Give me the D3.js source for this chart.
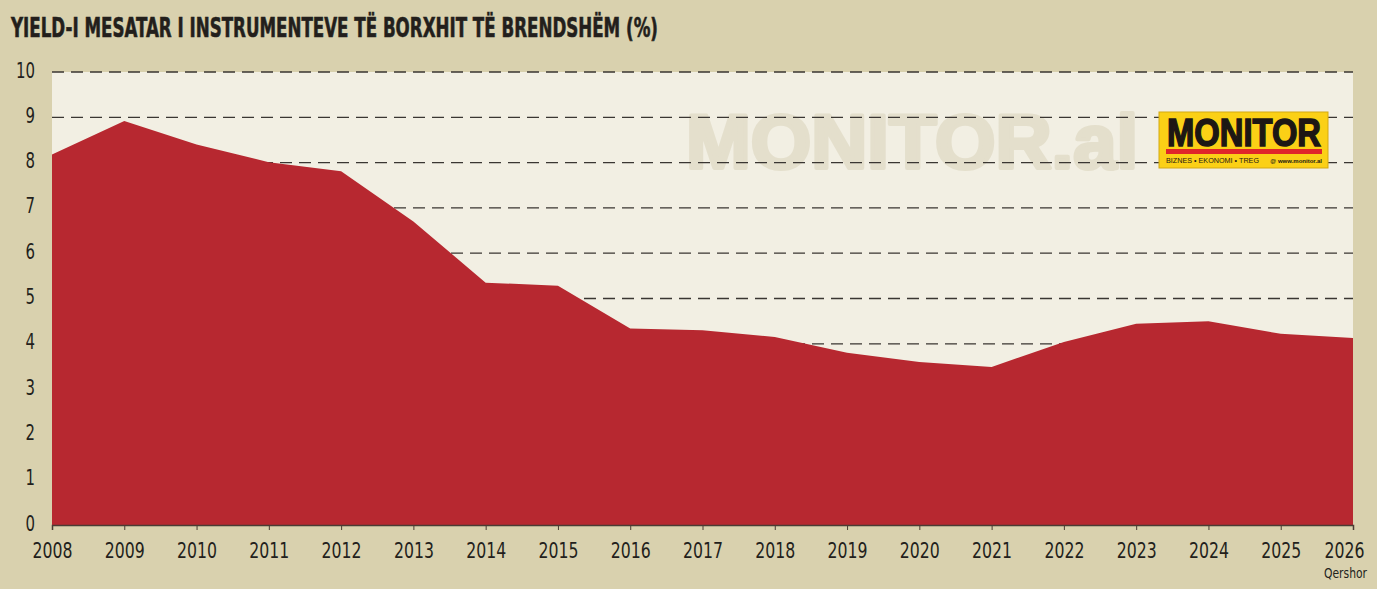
<!DOCTYPE html>
<html>
<head>
<meta charset="utf-8">
<script src="https://cdn.jsdelivr.net/npm/d3@7"></script>
<style>
  body { margin: 0; background: #d9d1ae; }
  svg { display: block; }
</style>
</head>
<body>
<div id="chart"></div>
<script>
var svgWidth = 1377;
var svgHeight = 589;

var margin = { top: 72, right: 24, bottom: 64, left: 52 };
var width = svgWidth - margin.left - margin.right;
var height = svgHeight - margin.top - margin.bottom;

// data
var years = ["2008", "2009", "2010", "2011", "2012", "2013", "2014", "2015", "2016", "2017",
  "2018", "2019", "2020", "2021", "2022", "2023", "2024", "2025", "2026"];
var yields = [8.18, 8.92, 8.40, 8.01, 7.81, 6.70, 5.35, 5.28, 4.34, 4.30,
  4.15, 3.80, 3.60, 3.49, 4.04, 4.44, 4.50, 4.22, 4.13];
var yTicks = [0, 1, 2, 3, 4, 5, 6, 7, 8, 9, 10];

var titleText = "YIELD-I MESATAR I INSTRUMENTEVE TË BORXHIT TË BRENDSHËM (%)";
var lastNote = "Qershor";

var condensed = "Liberation Sans Narrow, DejaVu Sans Condensed, sans-serif";

var data = years.map(function(y, i) { return { year: y, value: yields[i] }; });

var svg = d3.select("#chart")
  .append("svg")
  .attr("width", svgWidth)
  .attr("height", svgHeight);

svg.append("rect")
  .attr("width", svgWidth)
  .attr("height", svgHeight)
  .attr("fill", "#d9d1ae");

// title
svg.append("text")
  .attr("x", 11)
  .attr("y", 37)
  .attr("font-family", condensed)
  .attr("font-weight", "bold")
  .attr("font-size", "27px")
  .attr("textLength", 647)
  .attr("lengthAdjust", "spacingAndGlyphs")
  .attr("fill", "#231f1c")
  .attr("stroke", "#231f1c")
  .attr("stroke-width", 0.6)
  .text(titleText);

var chartGroup = svg.append("g")
  .attr("transform", `translate(${margin.left}, ${margin.top})`);

var xScale = d3.scalePoint()
  .domain(years)
  .range([0, width]);

var yScale = d3.scaleLinear()
  .domain([0, 10])
  .range([height, 0]);

// plot background
chartGroup.append("rect")
  .attr("width", width)
  .attr("height", height)
  .attr("fill", "#f2efe3");

// watermark
chartGroup.append("text")
  .attr("x", 634)
  .attr("y", 96)
  .attr("font-family", "Liberation Sans, Arial, sans-serif")
  .attr("font-weight", "bold")
  .attr("font-size", "76px")
  .attr("textLength", 452)
  .attr("lengthAdjust", "spacingAndGlyphs")
  .attr("fill", "#e4dfcc")
  .attr("stroke", "#e4dfcc")
  .attr("stroke-width", 4)
  .attr("stroke-linejoin", "round")
  .text("MONITOR.al");

// dashed grid lines
chartGroup.selectAll(".grid")
  .data(yTicks.filter(function(d) { return d > 0; }))
  .enter()
  .append("line")
  .attr("class", "grid")
  .attr("x1", 0)
  .attr("x2", width)
  .attr("y1", d => yScale(d))
  .attr("y2", d => yScale(d))
  .attr("stroke", "#3a3632")
  .attr("stroke-width", 1.3)
  .attr("stroke-dasharray", "12,7");

// area
var area = d3.area()
  .x(d => xScale(d.year))
  .y0(height)
  .y1(d => yScale(d.value));

chartGroup.append("path")
  .datum(data)
  .attr("d", area)
  .attr("fill", "#b72830");

// x axis
var bottomAxis = d3.axisBottom(xScale)
  .tickSize(5)
  .tickPadding(12);

var xAxis = chartGroup.append("g")
  .attr("transform", `translate(0, ${height})`)
  .call(bottomAxis);

xAxis.select(".domain").attr("stroke", "#4a3c34").attr("stroke-width", 1.5);
xAxis.selectAll(".tick line").attr("stroke", "#4a3c34");
xAxis.selectAll(".tick text")
  .attr("font-family", condensed)
  .attr("font-size", "22px")
  .attr("fill", "#231f1c")
  .attr("dy", "0.72em")
  .attr("textLength", 40)
  .attr("lengthAdjust", "spacingAndGlyphs")
  // last label is pulled left so it stays inside the frame
  .attr("x", (d, i) => i === years.length - 1 ? -9 : 0);

// y labels
var leftAxis = d3.axisLeft(yScale)
  .tickValues(yTicks)
  .tickSize(0)
  .tickPadding(17);

var yAxis = chartGroup.append("g").call(leftAxis);
yAxis.select(".domain").remove();
yAxis.selectAll(".tick text")
  .attr("font-family", condensed)
  .attr("font-size", "22px")
  .attr("fill", "#231f1c")
  .attr("y", -2)
  .attr("textLength", d => String(d).length * 9.5)
  .attr("lengthAdjust", "spacingAndGlyphs");

// note under last year
chartGroup.append("text")
  .attr("x", width + 14)
  .attr("y", height + 53)
  .attr("text-anchor", "end")
  .attr("font-family", condensed)
  .attr("font-size", "14px")
  .attr("textLength", 43)
  .attr("lengthAdjust", "spacingAndGlyphs")
  .attr("fill", "#231f1c")
  .text(lastNote);

// logo
var logo = svg.append("g").attr("transform", "translate(1159, 112)");
logo.append("rect")
  .attr("width", 169)
  .attr("height", 56)
  .attr("fill", "#fbd016")
  .attr("stroke", "#d4a912")
  .attr("stroke-width", 1);
logo.append("text")
  .attr("x", 8)
  .attr("y", 34)
  .attr("font-family", "Liberation Sans, Arial, sans-serif")
  .attr("font-weight", "bold")
  .attr("font-size", "38px")
  .attr("textLength", 154)
  .attr("lengthAdjust", "spacingAndGlyphs")
  .attr("fill", "#1d1714")
  .attr("stroke", "#1d1714")
  .attr("stroke-width", 1.5)
  .text("MONITOR");
logo.append("rect")
  .attr("x", 7)
  .attr("y", 37)
  .attr("width", 156)
  .attr("height", 5)
  .attr("fill", "#e0262a");
logo.append("text")
  .attr("x", 7)
  .attr("y", 51)
  .attr("font-family", "Liberation Sans, Arial, sans-serif")
  .attr("font-size", "6.5px")
  .attr("textLength", 93)
  .attr("lengthAdjust", "spacingAndGlyphs")
  .attr("fill", "#1d1714")
  .text("BIZNES  •  EKONOMI  •  TREG");
logo.append("text")
  .attr("x", 163)
  .attr("y", 51)
  .attr("text-anchor", "end")
  .attr("font-family", "Liberation Sans, Arial, sans-serif")
  .attr("font-weight", "bold")
  .attr("font-size", "6px")
  .attr("fill", "#1d1714")
  .text("@ www.monitor.al");
</script>
</body>
</html>
